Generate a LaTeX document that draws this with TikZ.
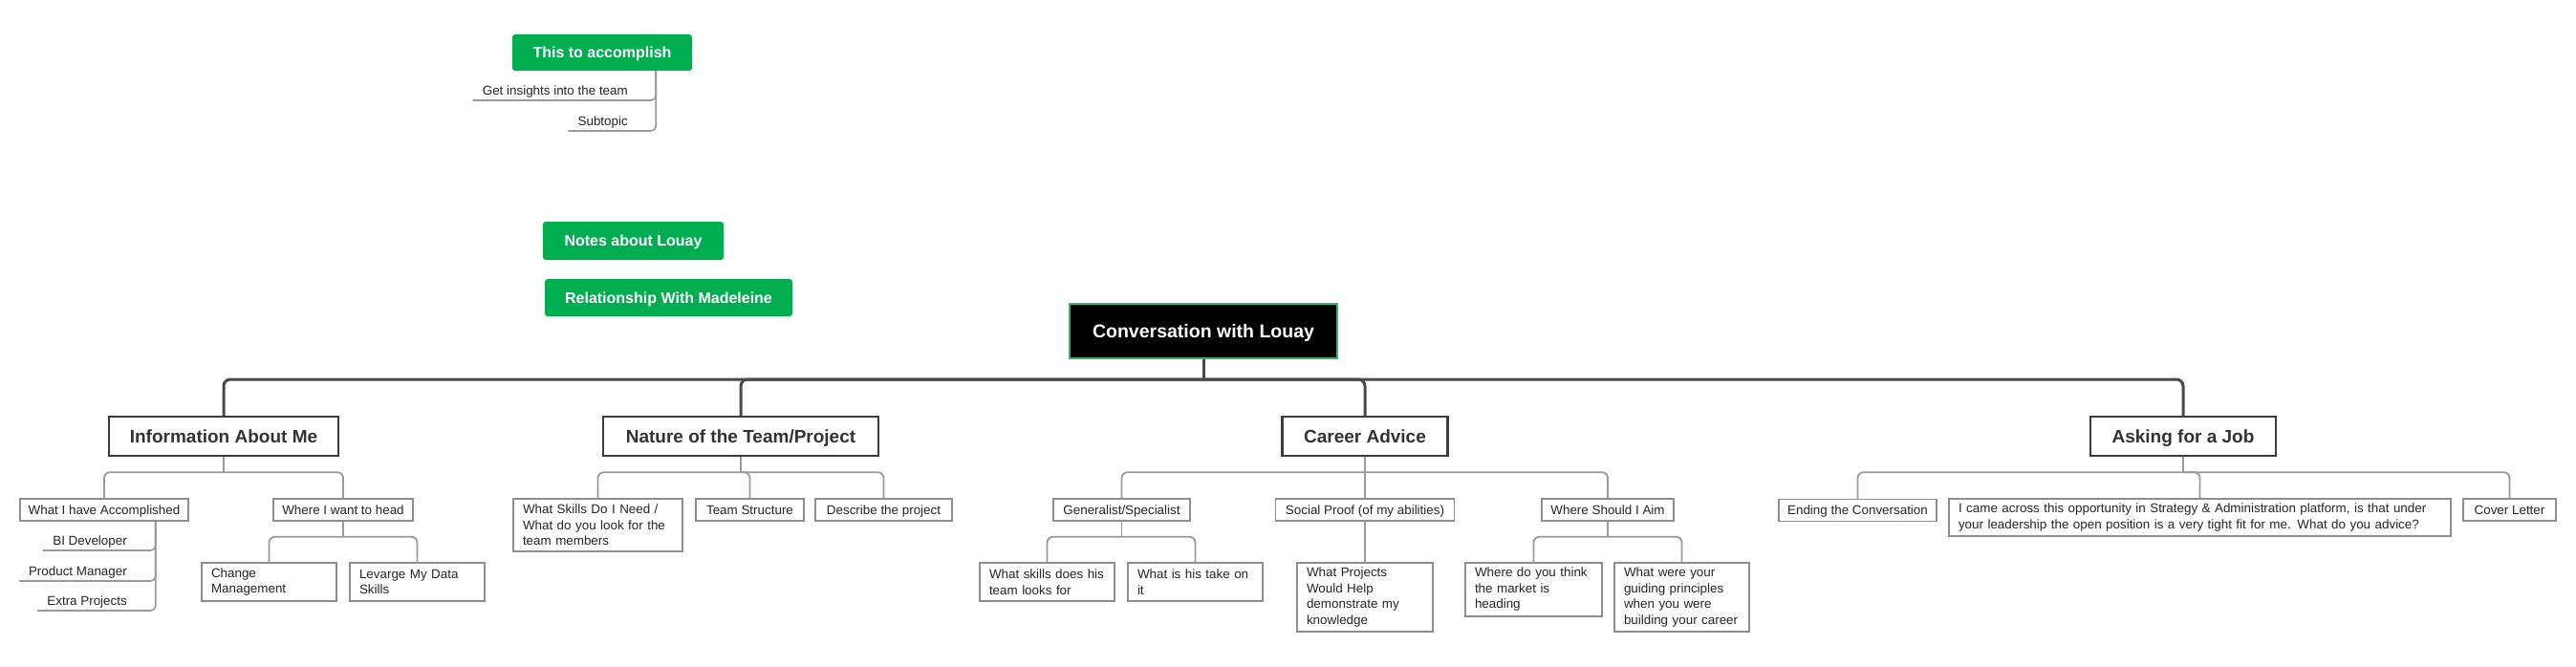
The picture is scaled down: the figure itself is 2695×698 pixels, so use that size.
\documentclass[tikz,border=0pt]{standalone}
\usepackage{fontspec}
\setmainfont{Liberation Sans}
\usetikzlibrary{calc}
\definecolor{xgreen}{HTML}{00AE50}
\definecolor{rootborder}{HTML}{2DB86E}
\definecolor{mainlinecol}{HTML}{4A4A4A}
\definecolor{lonebd}{HTML}{3C3C3C}
\definecolor{sublinecol}{HTML}{9A9A9A}
\definecolor{subbd}{HTML}{8E8E8E}
\definecolor{txtdark}{HTML}{333333}
\definecolor{txtsub}{HTML}{262626}
\newcommand\fRoot{\fontsize{19.5}{23}\selectfont\bfseries}
\newcommand\fLone{\fontsize{19}{22}\selectfont\bfseries}
\newcommand\fGreen{\fontsize{16}{19}\selectfont\bfseries}
\newcommand\fSmall{\fontsize{13.4}{16.5}\selectfont}
\tikzset{
  rootbox/.style={draw=rootborder, line width=2pt, fill=black, text=white, font=\fRoot, inner sep=0, minimum height=57, text height=14, text depth=0},
  greenbox/.style={fill=xgreen, rounded corners=3, text=white, font=\fGreen, inner sep=0, text height=11.5, text depth=0},
  lonebox/.style={draw=lonebd, line width=2.5pt, fill=white, text=txtdark, font=\fLone, inner sep=0, minimum height=41, text height=13.6, text depth=0.5},
  ltwobox/.style={draw=subbd, line width=1.5pt, fill=white, text=txtsub, font=\fSmall, inner sep=0, minimum height=23, text height=9.7, text depth=0},
  multibox/.style={draw=subbd, line width=1.5pt, fill=white, text=txtsub, font=\fSmall, inner xsep=10, inner ysep=0, align=left},
  subitem/.style={font=\fSmall, text=txtsub, inner xsep=10, inner ysep=3, text height=9.5, text depth=2.5, anchor=south east},
  mainln/.style={draw=mainlinecol, line width=3pt},
  subln/.style={draw=sublinecol, line width=1.8pt},
  itemln/.style={draw=sublinecol, line width=1.6pt, rounded corners=5},
}
\begin{document}
\begin{tikzpicture}[x=1pt,y=-1pt]
\useasboundingbox (0,0) rectangle (2695,698);
\fill[white] (0,0) rectangle (2695,698);

% floating topics
\node[greenbox, minimum width=188, minimum height=38] (accomp) at (630,55) {This to accomplish};
\node[greenbox, minimum width=189, minimum height=40] (notes) at (662.5,252) {Notes about Louay};
\node[greenbox, minimum width=259, minimum height=39] (rel) at (699.5,311.5) {Relationship With Madeleine};

\node[subitem] (gi) at (667,105) {Get insights into the team};
\node[subitem] (subt) at (667,137) {Subtopic};

% root
\node[rootbox, minimum width=280] (root) at (1259,346.5) {Conversation with Louay};

% level 1
\node[lonebox, minimum width=240] (info) at (234,456.5) {Information About Me};
\node[lonebox, minimum width=288] (nature) at (775,456.5) {Nature of the Team/Project};
\node[lonebox, minimum width=173] (career) at (1428,456.5) {Career Advice};
\node[lonebox, minimum width=194] (asking) at (2284,456.5) {Asking for a Job};

% level 2
\node[ltwobox, minimum width=176] (acc2) at (109,533.5) {What I have Accomplished};
\node[ltwobox, minimum width=146] (head) at (359,533.5) {Where I want to head};
\node[multibox, text width=157, minimum height=55] (skills) at (625.5,549.5) {What Skills Do I Need /\\What do you look for the\\team members};
\node[ltwobox, minimum width=113] (team) at (784.5,533.5) {Team Structure};
\node[ltwobox, minimum width=143] (desc) at (924.5,533.5) {Describe the project};
\node[ltwobox, minimum width=143] (gen) at (1173.5,533.5) {Generalist/Specialist};
\node[ltwobox, minimum width=187] (social) at (1428,533.5) {Social Proof (of my abilities)};
\node[ltwobox, minimum width=138] (aim) at (1682,533.5) {Where Should I Aim};
\node[ltwobox, minimum width=165] (ending) at (1943.5,534) {Ending the Conversation};
\node[multibox, text width=505, minimum height=39] (long) at (2301.5,541.5) {\mbox{I came across this opportunity in Strategy \& Administration platform, is that under}\\\mbox{your leadership the open position is a very tight fit for me. What do you advice?}};
\node[ltwobox, minimum width=97] (cover) at (2625.5,533.5) {Cover Letter};

% items under What I have Accomplished
\node[subitem] (bi) at (143,576) {BI Developer};
\node[subitem] (pm) at (143,608) {Product Manager};
\node[subitem] (ep) at (143,639) {Extra Projects};

% level 3
\node[multibox, text width=121, minimum height=40] (cm) at (281.5,609) {Change\\Management};
\node[multibox, text width=121, minimum height=40] (lev) at (436.5,609) {Levarge My Data\\Skills};
\node[multibox, text width=121, minimum height=40] (wsk) at (1095.5,609) {\mbox{What skills does his}\\team looks for};
\node[multibox, text width=121, minimum height=40] (take) at (1250.5,609) {What is his take on\\it};
\node[multibox, text width=122, minimum height=72] (proj) at (1428,625) {What Projects\\Would Help\\demonstrate my\\knowledge};
\node[multibox, text width=123, minimum height=56] (market) at (1604.5,617) {Where do you think\\the market is\\heading};
\node[multibox, text width=121, minimum height=72] (guide) at (1759.5,625) {What were your\\guiding principles\\when you were\\\mbox{building your career}};

% connectors: floating topic
\draw[itemln] ($(accomp.south east)+(-38,0)$) |- (gi.south west);
\draw[itemln] ($(accomp.south east)+(-38,0)$) |- (subt.south west);

% main bus
\draw[mainln] (root.south) -- ++(0,21) coordinate (rb);
\foreach \c in {info,nature,career,asking}
  \draw[mainln, rounded corners=7] (rb) -| (\c.north);

% level1 -> level2
\draw[subln] (info.south) -- ++(0,16) coordinate (ib);
\foreach \c in {acc2,head}
  \draw[subln, rounded corners=6] (ib) -| (\c.north);
\draw[subln] (nature.south) -- ++(0,16) coordinate (nb);
\foreach \c in {skills,team,desc}
  \draw[subln, rounded corners=6] (nb) -| (\c.north);
\draw[subln] (career.south) -- ++(0,16) coordinate (cb);
\foreach \c in {gen,aim}
  \draw[subln, rounded corners=6] (cb) -| (\c.north);
\draw[subln] (cb) -- (social.north);
\draw[subln] (asking.south) -- ++(0,16) coordinate (ab);
\foreach \c in {ending,long,cover}
  \draw[subln, rounded corners=6] (ab) -| (\c.north);

% level2 -> level3
\draw[subln] (head.south) -- ++(0,16) coordinate (hb);
\foreach \c in {cm,lev}
  \draw[subln, rounded corners=6] (hb) -| (\c.north);
\draw[subln] (gen.south) -- ++(0,16) coordinate (gb);
\foreach \c in {wsk,take}
  \draw[subln, rounded corners=6] (gb) -| (\c.north);
\draw[subln] (social.south) -- (proj.north);
\draw[subln] (aim.south) -- ++(0,16) coordinate (sb);
\foreach \c in {market,guide}
  \draw[subln, rounded corners=6] (sb) -| (\c.north);

% items
\foreach \c in {bi,pm,ep}
  \draw[itemln] ($(acc2.south east)+(-35,0)$) |- (\c.south west);
\end{tikzpicture}
\end{document}
